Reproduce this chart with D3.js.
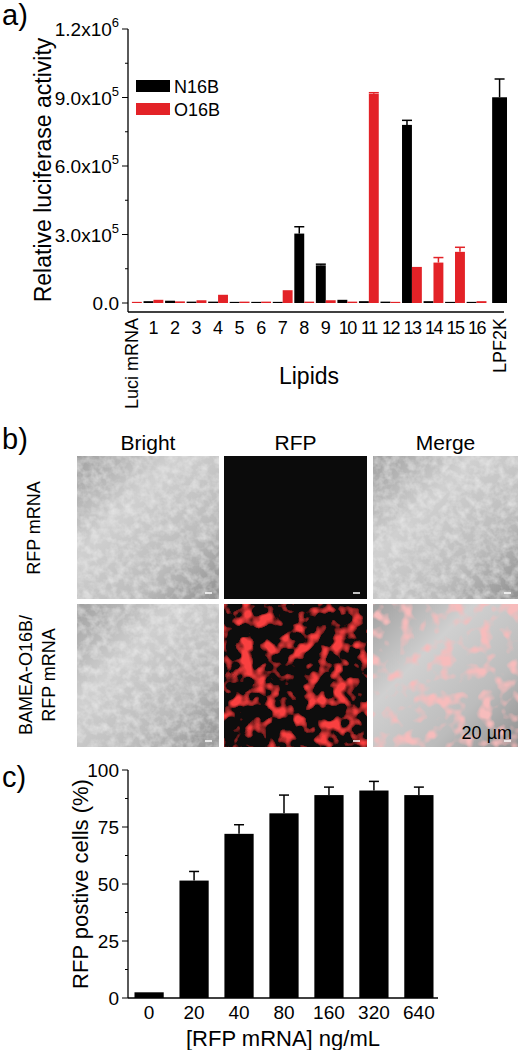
<!DOCTYPE html>
<html><head><meta charset="utf-8">
<script src="https://cdn.jsdelivr.net/npm/d3@7"></script>
<style>body{margin:0;background:#fff}text{font-family:Arial,"Liberation Sans",sans-serif}</style>
</head><body>
<svg id="fig" width="521" height="1050"></svg>
<script>
// panel a data
var lipids = ["Luci mRNA","1","2","3","4","5","6","7","8","9","10","11","12","13","14","15","16","LPF2K"];
var n16b = [0,8000,10000,6000,6000,5000,5000,5000,304000,165000,14000,8000,6000,780000,8000,5000,5000,901000];
var n16bErr = [0,0,0,0,0,0,0,0,30000,5000,0,0,0,20000,0,0,0,80000];
var o16b = [5000,14000,7000,12000,36000,6000,6000,56000,6000,12000,6000,916000,5000,158000,177000,224000,8000,null];
var o16bErr = [0,0,0,0,0,0,0,0,0,0,0,5000,0,0,22000,20000,0,0];
var aTicks = [0, 3e5, 6e5, 9e5, 1.2e6];
var aTickLabels = [["0.0",""],["3.0x10","5"],["6.0x10","5"],["9.0x10","5"],["1.2x10","6"]];

// panel c data
var doses = ["0","20","40","80","160","320","640"];
var rfpPos = [2.5,51.5,72,81,89,91,89];
var rfpErr = [0,4,4,8,3.5,4,3.5];

var svg = d3.select("#fig");
var RED = "#e32227";

// ---------- panel a ----------
var ax = d3.scaleBand().domain(lipids).range([122, 508]).paddingInner(0.08).paddingOuter(0.0);
var ay = d3.scaleLinear().domain([0, 1.2e6]).range([303, 29]);
var ga = svg.append("g");
ga.append("line").attr("x1",128).attr("x2",128).attr("y1",29).attr("y2",312).attr("stroke","#000").attr("stroke-width",1.3);
ga.append("line").attr("x1",128).attr("x2",504).attr("y1",312).attr("y2",312).attr("stroke","#000").attr("stroke-width",1.3);
var minor = d3.range(0, 1.2e6+1, 1.5e5);
ga.selectAll(".tk").data(minor).join("line")
  .attr("x1",d=>aTicks.includes(d)?122:125).attr("x2",128)
  .attr("y1",d=>ay(d)).attr("y2",d=>ay(d)).attr("stroke","#000");
var tl = ga.selectAll(".tl").data(aTicks).join("text")
  .attr("x",119).attr("y",d=>ay(d)+7).attr("text-anchor","end").attr("font-size",19);
tl.append("tspan").text((d,i)=>aTickLabels[i][0]);
tl.append("tspan").attr("dy",-9).attr("font-size",13).text((d,i)=>aTickLabels[i][1]);
ga.append("text").attr("transform","translate(51,170) rotate(-90)").attr("text-anchor","middle")
  .attr("font-size",23).text("Relative luciferase activity");
var bw = ax.bandwidth()/2;
function bars(vals, errs, off, col){
  var g = ga.append("g");
  lipids.forEach(function(l,i){
    var v = vals[i]; if (v==null) return;
    var x = ax(l) + off;
    g.append("rect").attr("x",x).attr("width",bw).attr("y",ay(v)).attr("height",ay(0)-ay(v)).attr("fill",col);
    if (errs[i]>0){
      var cx = x + bw/2;
      g.append("line").attr("x1",cx).attr("x2",cx).attr("y1",ay(v)).attr("y2",ay(v+errs[i])).attr("stroke",col).attr("stroke-width",1.5);
      g.append("line").attr("x1",cx-5).attr("x2",cx+5).attr("y1",ay(v+errs[i])).attr("y2",ay(v+errs[i])).attr("stroke",col).attr("stroke-width",1.5);
    }
  });
}
bars(n16b.map((v,i)=>i==17?null:v), n16bErr, 0, "#000");
bars(o16b, o16bErr, bw, RED);
(function(){
  var x = ax("LPF2K")+bw*0.4, w = bw*1.5, v=n16b[17], e=n16bErr[17];
  ga.append("rect").attr("x",x).attr("width",w).attr("y",ay(v)).attr("height",ay(0)-ay(v)).attr("fill","#000");
  var cx=x+w/2;
  ga.append("line").attr("x1",cx).attr("x2",cx).attr("y1",ay(v)).attr("y2",ay(v+e)).attr("stroke","#000").attr("stroke-width",1.5);
  ga.append("line").attr("x1",cx-5).attr("x2",cx+5).attr("y1",ay(v+e)).attr("y2",ay(v+e)).attr("stroke","#000").attr("stroke-width",1.5);
})();
ga.selectAll(".xl").data(lipids).join("text")
  .attr("font-size",18)
  .attr("transform",function(d){
    var cx = ax(d)+ax.bandwidth()/2 + (d==="LPF2K"?2:0);
    if (d==="Luci mRNA"||d==="LPF2K") return "translate("+(cx+6)+",318) rotate(-90)";
    return "translate("+cx+",334)";
  })
  .attr("text-anchor",d=>(d==="Luci mRNA"||d==="LPF2K")?"end":"middle")
  .attr("letter-spacing",d=>(+d>=10)?-1.5:0)
  .text(d=>d);
ga.append("text").attr("x",309).attr("y",384).attr("text-anchor","middle").attr("font-size",23).text("Lipids");
ga.append("rect").attr("x",136).attr("y",80).attr("width",34).attr("height",12).attr("fill","#000");
ga.append("rect").attr("x",136).attr("y",103).attr("width",34).attr("height",12).attr("fill",RED);
ga.append("text").attr("x",174).attr("y",93).attr("font-size",18).text("N16B");
ga.append("text").attr("x",174).attr("y",116).attr("font-size",18).text("O16B");
svg.append("text").attr("x",2).attr("y",25).attr("font-size",29).text("a)");

// ---------- panel b ----------
svg.append("text").attr("x",2).attr("y",449).attr("font-size",29).text("b)");
var cols = ["Bright","RFP","Merge"];
var colX = [77,224,373], colW=[142,143,145];
var rowY = [456,604], rowH = 143;
var defs = svg.append("defs");
var lg = defs.append("linearGradient").attr("id","gray").attr("x1",0).attr("y1",0).attr("x2",1).attr("y2",1);
lg.append("stop").attr("offset",0).attr("stop-color","#a0a0a0");
lg.append("stop").attr("offset",0.35).attr("stop-color","#d0d0d0");
lg.append("stop").attr("offset",0.7).attr("stop-color","#bcbcbc");
lg.append("stop").attr("offset",1).attr("stop-color","#909090");
function blobFilter(id, r, g, b, a, k){
  var f = defs.append("filter").attr("id",id).attr("x",0).attr("y",0).attr("width","100%").attr("height","100%");
  f.append("feTurbulence").attr("type","fractalNoise").attr("baseFrequency",0.075).attr("numOctaves",2).attr("seed",4).attr("result","n");
  f.append("feColorMatrix").attr("in","n").attr("type","matrix")
    .attr("values","0 0 0 0 "+r+"  0 0 0 0 "+g+"  0 0 0 0 "+b+"  "+a+" 0 0 0 "+k).attr("result","blob");
  f.append("feComposite").attr("in","blob").attr("in2","SourceGraphic").attr("operator","over");
}
blobFilter("cells", 0.95, 0.05, 0.05, 5, -2.5);
blobFilter("merge", 0.93, 0.5, 0.5, 4, -2.0);
var fg = defs.append("filter").attr("id","tex").attr("x",0).attr("y",0).attr("width","100%").attr("height","100%");
fg.append("feTurbulence").attr("type","fractalNoise").attr("baseFrequency",0.12).attr("numOctaves",3).attr("seed",7).attr("result","n");
fg.append("feColorMatrix").attr("in","n").attr("type","matrix")
  .attr("values","0 0 0 0 1  0 0 0 0 1  0 0 0 0 1  0.8 0 0 0 -0.3").attr("result","w");
fg.append("feComposite").attr("in","w").attr("in2","SourceGraphic").attr("operator","atop");
cols.forEach(function(c,ci){
  svg.append("text").attr("x",colX[ci]+colW[ci]/2).attr("y",450).attr("text-anchor","middle").attr("font-size",21).text(c);
  rowY.forEach(function(y,ri){
    var fill, filt=null;
    if (ci===1){ fill="#0b0b0b"; if(ri===1) filt="url(#cells)"; }
    else { fill="url(#gray)"; filt = (ci===2&&ri===1)?"url(#merge)":"url(#tex)"; }
    svg.append("rect").attr("x",colX[ci]).attr("y",y).attr("width",colW[ci]).attr("height",rowH)
      .attr("fill",fill).attr("filter",filt);
    svg.append("line").attr("x1",colX[ci]+colW[ci]-14).attr("x2",colX[ci]+colW[ci]-7)
      .attr("y1",y+rowH-6).attr("y2",y+rowH-6).attr("stroke","#fff").attr("stroke-width",1.5);
  });
});
svg.append("text").attr("x",512).attr("y",739).attr("text-anchor","end").attr("font-size",18).text("20 µm");
svg.append("text").attr("transform","translate(40,528) rotate(-90)").attr("text-anchor","middle").attr("font-size",18).text("RFP mRNA");
svg.append("text").attr("transform","translate(32,675) rotate(-90)").attr("text-anchor","middle").attr("font-size",18).text("BAMEA-O16B/");
svg.append("text").attr("transform","translate(55,675) rotate(-90)").attr("text-anchor","middle").attr("font-size",18).text("RFP mRNA");

// ---------- panel c ----------
svg.append("text").attr("x",2).attr("y",787).attr("font-size",29).text("c)");
var cx = d3.scaleBand().domain(doses).range([130, 438]).paddingInner(0.35).paddingOuter(0.1);
var cy = d3.scaleLinear().domain([0,100]).range([998,770]);
var gc = svg.append("g");
gc.append("line").attr("x1",128).attr("x2",128).attr("y1",770).attr("y2",998).attr("stroke","#000").attr("stroke-width",1.3);
gc.append("line").attr("x1",128).attr("x2",438).attr("y1",998).attr("y2",998).attr("stroke","#000").attr("stroke-width",1.3);
gc.selectAll(".ct").data(d3.range(0,101,12.5)).join("line")
  .attr("x1",d=>d%25===0?122:125).attr("x2",128).attr("y1",d=>cy(d)).attr("y2",d=>cy(d)).attr("stroke","#000");
gc.selectAll(".cl").data([0,25,50,75,100]).join("text")
  .attr("x",119).attr("y",d=>cy(d)+7).attr("text-anchor","end").attr("font-size",19).text(d=>d);
gc.selectAll(".cb").data(doses).join("rect")
  .attr("x",d=>cx(d)).attr("width",cx.bandwidth()).attr("y",(d,i)=>cy(rfpPos[i])).attr("height",(d,i)=>cy(0)-cy(rfpPos[i])).attr("fill","#000");
doses.forEach(function(d,i){
  if(!rfpErr[i]) return;
  var m = cx(d)+cx.bandwidth()/2, t=cy(rfpPos[i]+rfpErr[i]);
  gc.append("line").attr("x1",m).attr("x2",m).attr("y1",cy(rfpPos[i])).attr("y2",t).attr("stroke","#000").attr("stroke-width",1.5);
  gc.append("line").attr("x1",m-5).attr("x2",m+5).attr("y1",t).attr("y2",t).attr("stroke","#000").attr("stroke-width",1.5);
});
gc.selectAll(".cx").data(doses).join("text")
  .attr("x",d=>cx(d)+cx.bandwidth()/2).attr("y",1019).attr("text-anchor","middle").attr("font-size",19).text(d=>d);
gc.append("text").attr("x",283).attr("y",1046).attr("text-anchor","middle").attr("font-size",22).text("[RFP mRNA] ng/mL");
gc.append("text").attr("transform","translate(88,884) rotate(-90)").attr("text-anchor","middle").attr("font-size",22).text("RFP postive cells (%)");
</script>
</body></html>
